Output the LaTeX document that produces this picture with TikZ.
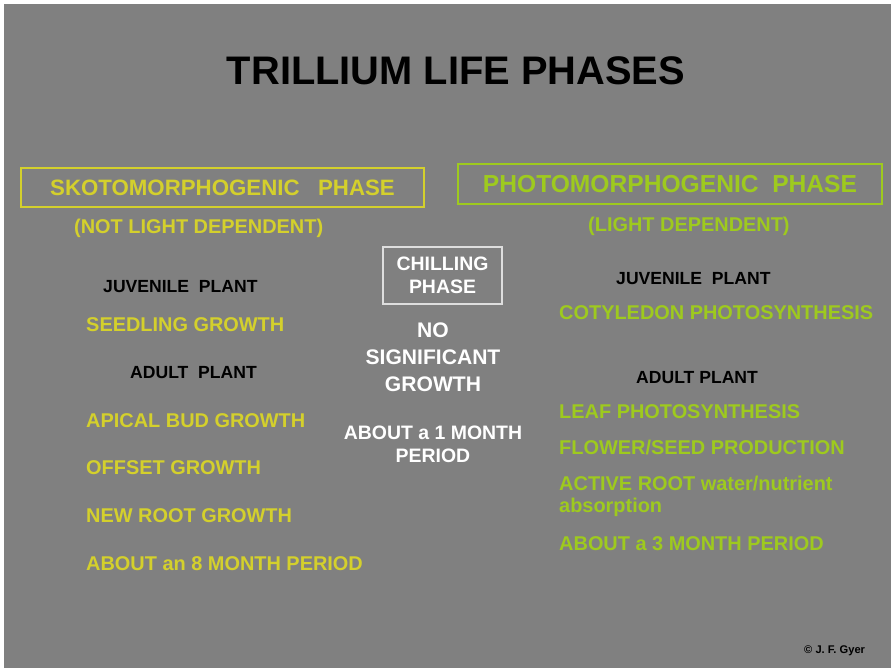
\documentclass[tikz,border=0pt]{standalone}
\usepackage{fontspec}
\setmainfont{Liberation Sans}
\definecolor{slidegray}{RGB}{128,128,128}
\definecolor{skoto}{RGB}{212,208,44}
\definecolor{photo}{RGB}{158,202,30}
\definecolor{chill}{RGB}{222,222,222}
\newcommand{\sz}[2]{\bfseries\fontsize{#1}{#2}\selectfont}
\begin{document}
\begin{tikzpicture}[x=0.03cm,y=-0.03cm,
  item/.style={anchor=base west,inner sep=0pt,font=\sz{17}{20}},
  yel/.style={item,text=skoto},
  grn/.style={item,text=photo},
  blk/.style={item,text=black,font=\sz{15}{18}},
  phasebox/.style={draw,line width=1.5pt,inner sep=0pt},
  wht/.style={text=white,align=center,inner sep=0pt}]
  \useasboundingbox (0,0) rectangle (891,668);
  \fill[white] (0,0) rectangle (891,668);
  \fill[slidegray] (4,4) rectangle (891,668);
  \node (title) [anchor=base,inner sep=0pt,font=\sz{34}{40}] at (456,84) {TRILLIUM LIFE PHASES};
  \node (skoto) [phasebox,draw=skoto,text=skoto,minimum width=403*0.03cm,minimum height=39*0.03cm,font=\sz{19}{22}]
    at (222.5,187.5) {SKOTOMORPHOGENIC\ \ \ PHASE};
  \node (photo) [phasebox,draw=photo,text=photo,minimum width=424*0.03cm,minimum height=40*0.03cm,font=\sz{21}{24}]
    at (670,184) {PHOTOMORPHOGENIC\ \ PHASE};
  \node (notlight) [yel] at (74,233) {(NOT LIGHT DEPENDENT)};
  \node (light) [grn] at (588,231) {(LIGHT DEPENDENT)};
  \node (chill) [phasebox,draw=chill,wht,minimum width=119*0.03cm,minimum height=57*0.03cm,font=\sz{16.6}{19.6}]
    at (442.5,275.5) {CHILLING\\PHASE};
  \node (nogrowth) [wht,font=\sz{18}{23}] at (433,357.5) {NO\\SIGNIFICANT\\GROWTH};
  \node (onemonth) [wht,font=\sz{16.6}{19.6}] at (433,444.5) {ABOUT a 1 MONTH\\PERIOD};
  \node (sjuv) [blk] at (103,292) {JUVENILE\ \ PLANT};
  \node (seedling) [yel] at (86,331) {SEEDLING GROWTH};
  \node (sadult) [blk] at (130,378) {ADULT\ \ PLANT};
  \node (apical) [yel] at (86,427) {APICAL BUD GROWTH};
  \node (offset) [yel] at (86,474) {OFFSET GROWTH};
  \node (newroot) [yel] at (86,522) {NEW ROOT GROWTH};
  \node (eightmonth) [yel] at (86,570) {ABOUT an 8 MONTH PERIOD};
  \node (pjuv) [blk] at (616,284) {JUVENILE\ \ PLANT};
  \node (cotyledon) [grn] at (559,319) {COTYLEDON PHOTOSYNTHESIS};
  \node (padult) [blk] at (636,383) {ADULT PLANT};
  \node (leaf) [grn] at (559,418) {LEAF PHOTOSYNTHESIS};
  \node (flower) [grn] at (559,454) {FLOWER/SEED PRODUCTION};
  \node (activeroot) [grn] at (559,490) {ACTIVE ROOT water/nutrient};
  \node (absorption) [grn] at (559,512.7) {absorption};
  \node (threemonth) [grn] at (559,550) {ABOUT a 3 MONTH PERIOD};
  \node (credit) [anchor=base west,inner sep=0pt,font=\sz{9.5}{11}] at (804,653) {\textcopyright{} J. F. Gyer};
\end{tikzpicture}
\end{document}
